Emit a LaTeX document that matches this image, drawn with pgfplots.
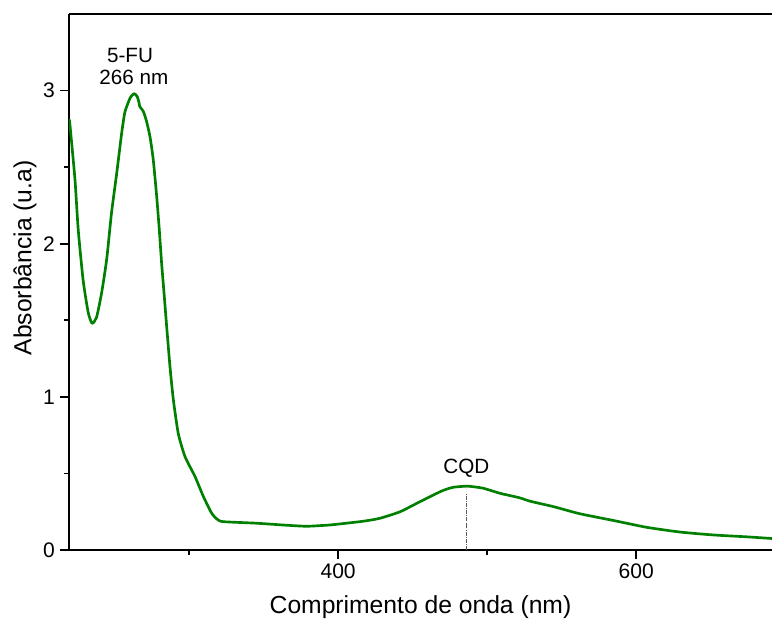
\documentclass[border=0pt]{standalone}
\usepackage{fontspec}
\setmainfont{Liberation Sans}
\usepackage{pgfplots}
\pgfplotsset{compat=1.18}
\definecolor{origgreen}{RGB}{0,128,0}
\begin{document}
\begin{tikzpicture}
\begin{axis}[
  name=ax,
  scale only axis,
  width=527.25pt, height=402pt,
  xmin=219.5, xmax=691, ymin=0, ymax=3.5,
  axis x line*=box, axis y line*=left,
  xtick pos=left,
  xtick={400,600}, minor xtick={300,500},
  ytick={0,1,2,3}, minor ytick={0.5,1.5,2.5},
  tick align=outside,
  major tick length=7pt, minor tick length=3.5pt,
  every tick/.style={black, line width=1.3pt},
  axis line style={line width=1.5pt},
  /pgf/number format/assume math mode=true,
  tick label style={font=\fontsize{15.8pt}{18pt}\selectfont},
  label style={font=\fontsize{18.5pt}{22pt}\selectfont},
  xlabel={Comprimento de onda (nm)},
  ylabel={Absorbância (u.a)},
  xlabel style={at={(axis description cs:0.5,-0.106)}, anchor=center},
  ylabel style={at={(axis description cs:-0.0626,0.545)}, anchor=center},
  clip=true,
]
\addplot[origgreen, line width=2pt, line join=round, smooth, tension=0.35] coordinates {
(219.5,2.80) (220,2.79) (223.5,2.42) (225.7,2.09) (229,1.76) (232.4,1.55)
(235,1.48) (238,1.52) (241.4,1.68) (244.8,1.90) (248,2.20) (251.5,2.46)
(254.8,2.72) (257,2.86) (260.4,2.95) (262,2.97) (263,2.98) (264,2.975)
(265.3,2.96) (266.5,2.92) (267,2.895) (269.3,2.865) (271.5,2.80) (273.8,2.70)
(276,2.55) (278.3,2.31) (280,2.10) (281.6,1.875) (283.3,1.67) (285,1.46)
(287.2,1.20) (289.5,0.98) (292.8,0.76) (297.3,0.61) (304,0.48) (309.6,0.35)
(315.2,0.24) (319,0.20) (323,0.185) (345,0.175) (365,0.162) (379,0.155)
(394,0.163) (401,0.17) (417,0.188) (428,0.207) (441.6,0.25) (455,0.316)
(468.5,0.381) (473,0.398) (477.4,0.41) (486.4,0.417) (493,0.41) (497.5,0.403)
(508.7,0.37) (515,0.356) (522,0.340) (529,0.318) (544.5,0.283) (562,0.237)
(585,0.192) (607,0.148) (629.5,0.117) (652,0.098) (674,0.086) (691,0.075)
};
\addplot[black!65, densely dashdotted, line width=0.7pt] coordinates {(486,0) (486,0.37)};
\node[anchor=base, font=\fontsize{15.5pt}{18pt}\selectfont] at (axis cs:260.4,3.185) {5-FU};
\node[anchor=base, font=\fontsize{15.5pt}{18pt}\selectfont] at (axis cs:263,3.04) {266 nm};
\node[anchor=base, font=\fontsize{15.5pt}{18pt}\selectfont] at (axis cs:486,0.501) {CQD};
\end{axis}
\pgfresetboundingbox
\path ([xshift=-51.75pt,yshift=-53.25pt]ax.south west) rectangle ([yshift=10.5pt]ax.north east);
\end{tikzpicture}
\end{document}
